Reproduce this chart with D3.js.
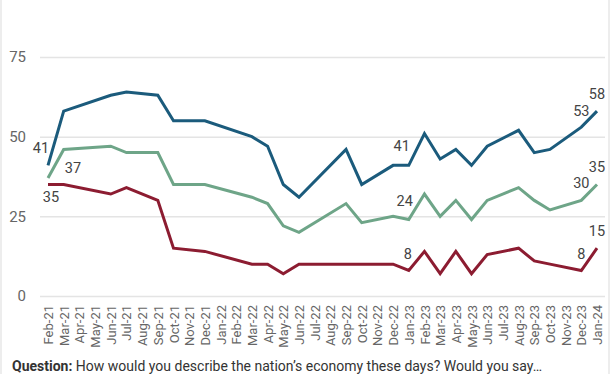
<!DOCTYPE html>
<html lang="en">
<head>
<meta charset="UTF-8" />
<title>Economy ratings</title>
<script src="https://cdn.jsdelivr.net/npm/d3@7"></script>
<style>
  body { margin: 0; background: #fff; font-family: Roboto, "Noto Sans", sans-serif; }
  svg text { fill: #444; }
</style>
</head>
<body>
<div id="container"></div>
<script>
// every month shown on the x axis
const months = ['Feb-21','Mar-21','Apr-21','May-21','Jun-21','Jul-21','Aug-21','Sep-21','Oct-21','Nov-21','Dec-21',
  'Jan-22','Feb-22','Mar-22','Apr-22','May-22','Jun-22','Jul-22','Aug-22','Sep-22','Oct-22','Nov-22','Dec-22',
  'Jan-23','Feb-23','Mar-23','Apr-23','May-23','Jun-23','Jul-23','Aug-23','Sep-23','Oct-23','Nov-23','Dec-23','Jan-24']

// survey dates that have values
const surveys = ['Feb-21','Mar-21','Jun-21','Jul-21','Sep-21','Oct-21','Dec-21','Mar-22','Apr-22','May-22','Jun-22',
  'Sep-22','Oct-22','Dec-22','Jan-23','Feb-23','Mar-23','Apr-23','May-23','Jun-23','Aug-23','Sep-23','Oct-23','Dec-23','Jan-24']

const blueVals  = [41,58,63,64,63,55,55,50,47,35,31,46,35,41,41,51,43,46,41,47,52,45,46,53,58]
const greenVals = [37,46,47,45,45,35,35,31,29,22,20,29,23,25,24,32,25,30,24,30,34,30,27,30,35]
const redVals   = [35,35,32,34,30,15,14,10,10,7,10,10,10,10,8,14,7,14,7,13,15,11,10,8,15]

const yTicks = [0, 25, 50, 75]

const width = 612
const height = 374

const x = d3.scalePoint().domain(months).range([48, 597])
const y = d3.scaleLinear().domain([0, 75]).range([296, 57])

const svg = d3.create('svg')
  .attr('width', width)
  .attr('height', height)
  .attr('viewBox', [0, 0, width, height])

// frame
svg.append('rect')
  .attr('x', 1).attr('y', -2)
  .attr('width', 608).attr('height', height + 10)
  .attr('fill', 'none')
  .attr('stroke', '#e2e2e2')
  .attr('stroke-width', 1.2)

// y grid + labels
const yAxis = svg.append('g')
  .attr('transform', 'translate(40,0)')
  .call(d3.axisLeft(y).tickValues(yTicks).tickSize(-565).tickPadding(14))
yAxis.select('.domain').remove()
yAxis.selectAll('line').attr('stroke', '#e4e4e4').attr('stroke-width', 1.5)
yAxis.selectAll('text')
  .attr('font-family', 'Roboto, sans-serif')
  .attr('font-size', 15)
  .style('fill', '#666')

// x axis labels rotated
const xAxis = svg.append('g')
  .attr('transform', 'translate(0,296)')
  .call(d3.axisBottom(x).tickSize(0).tickPadding(0))
xAxis.select('.domain').remove()
xAxis.selectAll('text')
  .attr('font-family', 'Roboto, sans-serif')
  .attr('font-size', 13)
  .style('fill', '#666')
  .attr('text-anchor', 'end')
  .attr('transform', 'rotate(-90)')
  .attr('x', -9)
  .attr('y', 0)
  .attr('dy', '0.35em')

const series = [
  { vals: blueVals, color: '#1b5b7c' },
  { vals: greenVals, color: '#6ea588' },
  { vals: redVals, color: '#8c1c31' }
]

const line = d3.line()
  .x((d, i) => x(surveys[i]))
  .y(d => y(d))

svg.append('g')
  .selectAll('path')
  .data(series)
  .join('path')
  .attr('d', s => line(s.vals))
  .attr('fill', 'none')
  .attr('stroke', s => s.color)
  .attr('stroke-width', 3)
  .attr('stroke-linejoin', 'miter')

// value labels: [series values, survey index, dx, dy]
const labels = [
  [blueVals, 0, -7, -12],
  [greenVals, 0, 25, -5],
  [redVals, 0, 3, 18],
  [blueVals, 14, -7, -14],
  [greenVals, 14, -4, -14],
  [redVals, 14, -1, -12],
  [blueVals, 23, 0, -11],
  [greenVals, 23, 0, -12],
  [redVals, 23, 0, -12],
  [blueVals, 24, 0, -12],
  [greenVals, 24, 0, -12],
  [redVals, 24, 0, -12]
]

svg.append('g')
  .selectAll('text')
  .data(labels)
  .join('text')
  .attr('x', d => x(surveys[d[1]]) + d[2])
  .attr('y', d => y(d[0][d[1]]) + d[3])
  .attr('text-anchor', 'middle')
  .attr('font-size', 14.5)
  .style('fill', '#444')
  .text(d => d[0][d[1]])

// question note
const note = svg.append('text')
  .attr('x', 12)
  .attr('y', 371)
  .attr('font-size', 14)
  .style('fill', '#333')
note.append('tspan').attr('font-weight', 'bold').text('Question:')
note.append('tspan').text(' How would you describe the nation\u2019s economy these days? Would you say\u2026')

document.getElementById('container').append(svg.node())
</script>
</body>
</html>
